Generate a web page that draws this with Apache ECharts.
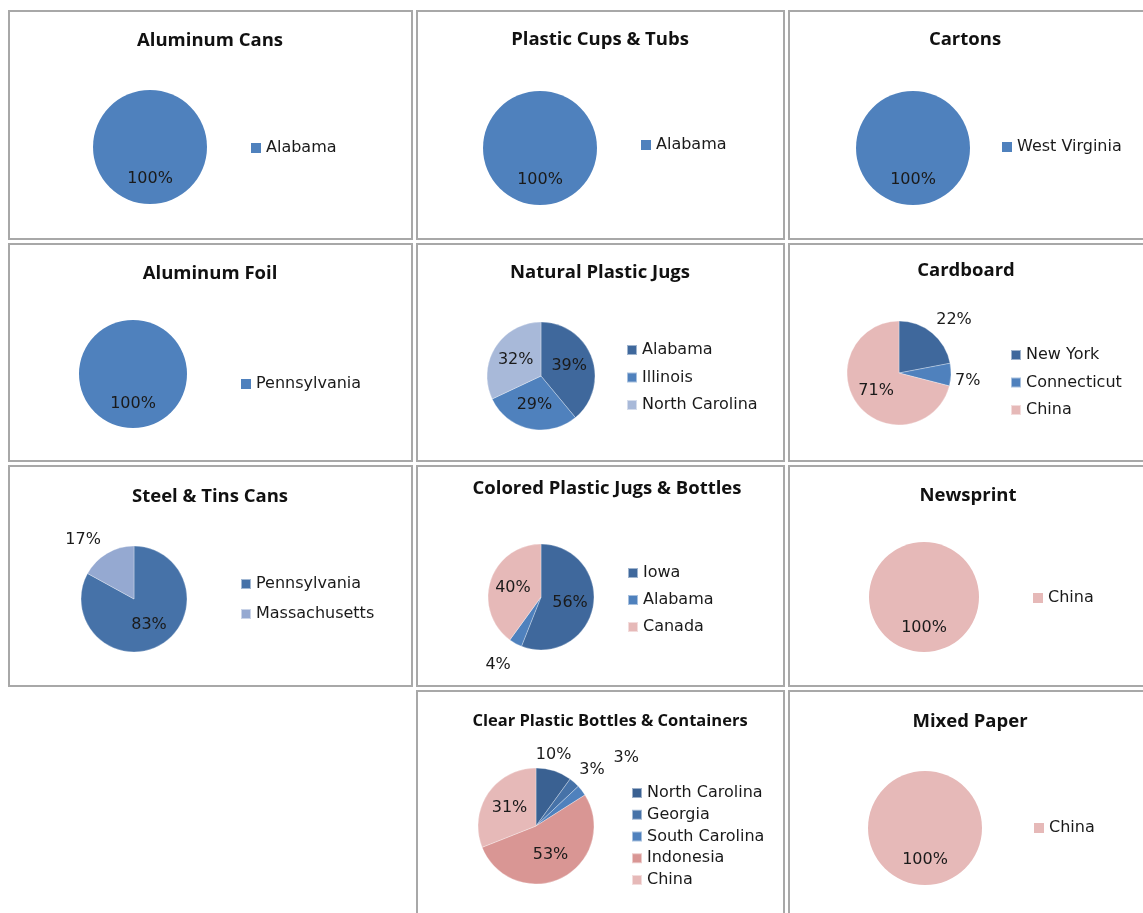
<!DOCTYPE html>
<html><head><meta charset="utf-8">
<script src="https://cdn.jsdelivr.net/npm/echarts@6/dist/echarts.min.js"></script>
<style>
html,body{margin:0;padding:0;background:#fff;width:1143px;height:913px;overflow:hidden;}
.panel{position:absolute;box-sizing:border-box;border:2px solid #a8a8a8;pointer-events:none;}
.chart{position:absolute;}
</style></head><body>
<script>
// ---------- data ----------
const panelTitles = ['Aluminum Cans','Plastic Cups & Tubs','Cartons','Aluminum Foil','Natural Plastic Jugs','Cardboard','Steel & Tins Cans','Colored Plastic Jugs & Bottles','Newsprint','Clear Plastic Bottles & Containers','Mixed Paper'];
const canNames = ['Alabama'];               const canValues = [100];
const cupNames = ['Alabama'];               const cupValues = [100];
const cartonNames = ['West Virginia'];      const cartonValues = [100];
const foilNames = ['Pennsylvania'];         const foilValues = [100];
const naturalNames = ['Alabama','Illinois','North Carolina'];   const naturalValues = [39,29,32];
const cardboardNames = ['New York','Connecticut','China'];      const cardboardValues = [22,7,71];
const steelNames = ['Pennsylvania','Massachusetts'];            const steelValues = [83,17];
const coloredNames = ['Iowa','Alabama','Canada'];               const coloredValues = [56,4,40];
const newsprintNames = ['China'];           const newsprintValues = [100];
const clearNames = ['North Carolina','Georgia','South Carolina','Indonesia','China']; const clearValues = [10,3,3,53,31];
const mixedNames = ['China'];               const mixedValues = [100];

// ---------- styles / layout ----------
const BLUE='#4f81bd', DARK='#3f689c', MID='#4672a8', LIGHT='#a8b9d9', LAV='#95a9d1', PINK='#e6b9b8', ROSE='#d99694', NAVY='#3a6192';
const TITLE_FONT = '"Open Sans", sans-serif';
const TEXT_FONT = '"DejaVu Sans", sans-serif';
const TEXT_SIZE = 16;

const layout = [
 {names:canNames, values:canValues, colors:[BLUE], box:[8,10,412,239], t:[210,41], pie:[150,147,57], lg:[251,148,27]},
 {names:cupNames, values:cupValues, colors:[BLUE], box:[416,10,784,239], t:[600,40], pie:[540,148,57], lg:[641,145,27]},
 {names:cartonNames, values:cartonValues, colors:[BLUE], box:[788,10,1150,239], t:[965,40], pie:[913,148,57], lg:[1002,147,27]},
 {names:foilNames, values:foilValues, colors:[BLUE], box:[8,243,412,461], t:[210,274], pie:[133,374,54], lg:[241,384,27]},
 {names:naturalNames, values:naturalValues, colors:[DARK,BLUE,LIGHT], box:[416,243,784,461], t:[600,273], pie:[541,376,54], lg:[626,350,27.5]},
 {names:cardboardNames, values:cardboardValues, colors:[DARK,BLUE,PINK], box:[788,243,1150,461], t:[966,271], pie:[899,373,52], lg:[1010,355,27.5],
   out:{0:{len:8,off:[-6,-7]},1:{len:4,off:[-5,6]}}},
 {names:steelNames, values:steelValues, colors:[MID,LAV], box:[8,465,412,686], t:[210,497], pie:[134,599,53], lg:[240,584,30],
   out:{1:{len:12,off:[5,-3]}}},
 {names:coloredNames, values:coloredValues, colors:[DARK,BLUE,PINK], box:[416,465,784,686], t:[607,489], pie:[541,597,53], lg:[627,573,27],
   out:{1:{len:16,off:[8,7]}}},
 {names:newsprintNames, values:newsprintValues, colors:[PINK], box:[788,465,1150,686], t:[968,496], pie:[924,597,55], lg:[1033,598,27]},
 {names:clearNames, values:clearValues, colors:[NAVY,MID,BLUE,ROSE,PINK], box:[416,690,784,920], t:[610,721], tfs:16.5, pie:[536,826,58], lg:[631,793,21.75],
   out:{0:{len:6,off:[-25,-10]},1:{len:6,off:[-4,-8]},2:{len:6,off:[22,-29]}}},
 {names:mixedNames, values:mixedValues, colors:[PINK], box:[788,690,1150,920], t:[970,722], pie:[925,828,57], lg:[1034,828,27]}
];

layout.forEach((p, i) => {
  const [x0,y0,x1,y1] = p.box;
  const w = x1 - x0, h = y1 - y0;
  const div = document.createElement('div');
  div.className = 'chart';
  div.style.cssText = `left:${x0}px;top:${y0}px;width:${w}px;height:${h}px;`;
  document.body.appendChild(div);
  const frame = document.createElement('div');
  frame.className = 'panel';
  frame.style.cssText = `left:${x0}px;top:${y0}px;width:${w+1}px;height:${h+1}px;`;
  document.body.appendChild(frame);

  const chart = echarts.init(div, null, {renderer:'canvas'});
  const tfs = p.tfs || 18.5;
  const data = p.names.map((n, k) => {
    const item = {name:n, value:p.values[k], itemStyle:{color:p.colors[k]}};
    if (p.out && p.out[k]) {
      item.label = {position:'outside', offset:p.out[k].off};
      item.labelLine = {show:false, length:p.out[k].len, length2:0};
    }
    return item;
  });
  chart.setOption({
    animation:false,
    title:{text:panelTitles[i], left:p.t[0]-x0, top:p.t[1]-y0-12, textAlign:'center', padding:0,
      textStyle:{fontFamily:TITLE_FONT, fontWeight:'bold', fontSize:tfs, lineHeight:24, color:'#111'}},
    legend:{orient:'vertical', left:p.lg[0]-x0, top:p.lg[1]-y0-8, padding:0, itemGap:p.lg[2]-16,
      itemWidth:10, itemHeight:10, icon:'rect', selectedMode:false, data:p.names,
      textStyle:{fontFamily:TEXT_FONT, fontSize:TEXT_SIZE, lineHeight:16, color:'#1a1a1a', padding:[0,0,0,0]}},
    series:[{
      type:'pie', center:[p.pie[0]-x0, p.pie[1]-y0], radius:p.pie[2], startAngle:90, clockwise:true,
      avoidLabelOverlap:false, silent:true,
      itemStyle:{borderColor:'rgba(255,255,255,0.5)', borderWidth:p.names.length>1?0.6:0},
      label:{show:true, position:'inside', formatter:(q)=>Math.round(q.percent)+'%',
        fontFamily:TEXT_FONT, fontSize:TEXT_SIZE, color:'#1a1a1a'},
      labelLine:{show:false},
      emphasis:{disabled:true},
      data:data
    }]
  });
});
</script>
</body></html>
